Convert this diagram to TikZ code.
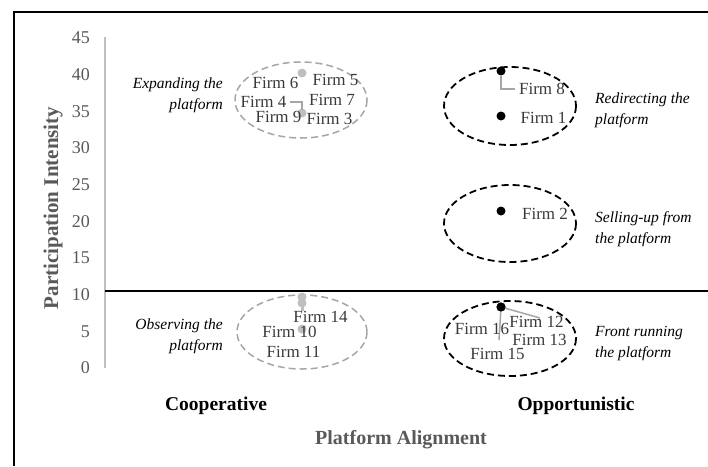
\documentclass[tikz,border=0pt]{standalone}
\usepackage{fontspec}
\setmainfont{Liberation Serif}
\begin{document}
\begin{tikzpicture}[x=1pt,y=-1pt,
  firm/.style={inner sep=0pt,text=firmc,font=\fontsize{17}{17}\selectfont},
  tick/.style={inner sep=0pt,anchor=east,text=tickc,font=\fontsize{18}{18}\selectfont},
  strat/.style={inner sep=0pt,font=\fontsize{15.5}{21}\selectfont\itshape},
  bdot/.style={circle,fill=black,inner sep=0pt,minimum size=9pt},
  gdot/.style={circle,fill=dotg,inner sep=0pt,minimum size=9pt},
  grayell/.style={draw=ellg,line width=1.5pt,dash pattern=on 7pt off 4pt},
  blackell/.style={draw=black,line width=1.8pt,dash pattern=on 7pt off 4pt},
  leader/.style={draw=leadg,line width=1.5pt},
  cat/.style={inner sep=0pt,font=\fontsize{19.5}{20}\selectfont\bfseries},
  axtitle/.style={inner sep=0pt,text=tickc,font=\fontsize{20}{20}\selectfont\bfseries}]
\definecolor{firmc}{HTML}{3A3A3A}
\definecolor{tickc}{HTML}{595959}
\definecolor{dotg}{HTML}{BFBFBF}
\definecolor{ellg}{HTML}{A6A6A6}
\definecolor{leadg}{HTML}{A6A6A6}
\definecolor{axg}{HTML}{BFBFBF}
\useasboundingbox (0,0) rectangle (708,466);
\fill[white] (0,0) rectangle (708,466);
% frame
\draw[line width=2pt] (14,466) -- (14,12) -- (708,12);
% y axis
\coordinate (ytop) at (105,37);
\coordinate (ybot) at (105,368);
\draw[draw=axg,line width=2pt] (ytop) -- (ybot);
\foreach \v in {0,5,...,45} {
  \node[tick] (t\v) at (90,{368-7.333*\v}) {\v};
}
% horizontal divider at 10
\coordinate (hl) at (105,291);
\coordinate (hr) at (708,291);
\draw[line width=2.5pt] (hl) -- (hr);
% ellipses
\draw[grayell] (301,100) ellipse (66 and 38);
\draw[grayell] (302,332) ellipse (65 and 37);
\draw[blackell] (510,106) ellipse (66 and 39);
\draw[blackell] (510,223.5) ellipse (66 and 38.5);
\draw[blackell] (510,338.5) ellipse (66 and 37.5);
% expanding group
\node[gdot] (d40) at (302,73) {};
\node[gdot] (d35) at (302,113) {};
\node[firm] (f6) at (275.5,83) {Firm 6};
\node[firm] (f5) at (335.5,80) {Firm 5};
\node[firm] (f4) at (263.5,102) {Firm 4};
\node[firm] (f7) at (332,100) {Firm 7};
\node[firm] (f9) at (278.5,117) {Firm 9};
\node[firm] (f3) at (329.5,119) {Firm 3};
\draw[leader] ([xshift=3pt]f4.east) -| ([yshift=-2pt]d35.north);
% redirecting group
\node[bdot] (d8) at (501,71) {};
\node[bdot] (d1) at (501,116) {};
\node[firm] (f8) at (542,89) {Firm 8};
\node[firm] (f1) at (543.5,118) {Firm 1};
\draw[leader] (d8.south) |- ([xshift=-4pt]f8.west);
% selling-up group
\node[bdot] (d2) at (501,211) {};
\node[firm] (f2) at (545,214) {Firm 2};
% front running group
\coordinate (e16) at (499,340);
\coordinate (e12) at (540,318);
\node[bdot] (d16) at (501,307) {};
\draw[leader] (d16.center) -- (e16);
\draw[leader] (d16.center) -- (e12);
\node[bdot] at (d16) {};
\node[firm] (f16) at (482,329) {Firm 16};
\node[firm] (f12) at (536.5,322) {Firm 12};
\node[firm] (f13) at (539.5,340) {Firm 13};
\node[firm] (f15) at (497.5,354) {Firm 15};
% observing group
\node[gdot] (d9o) at (302,297) {};
\node[gdot] (d8o) at (302,303) {};
\coordinate (e14) at (302,311);
\draw[draw=dotg,line width=3pt] (d9o) -- (e14);
\node[gdot] (d5o) at (302,329) {};
\node[firm] (f14) at (320.5,317) {Firm 14};
\node[firm] (f10) at (289.5,332) {Firm 10};
\node[firm] (f11) at (293.5,352) {Firm 11};
% strategy labels
\node[strat,align=right,anchor=east] (sexp) at (223,95.5) {Expanding the\\platform};
\node[strat,align=right,anchor=east] (sobs) at (223,336.5) {Observing the\\platform};
\node[strat,align=left,anchor=west] (sred) at (595,110) {Redirecting the\\platform};
\node[strat,align=left,anchor=west] (ssel) at (595,229) {Selling-up from\\the platform};
\node[strat,align=left,anchor=west] (sfro) at (595,343.5) {Front running\\the platform};
% categories and axis titles
\node[cat] (coop) at (216,406) {Cooperative};
\node[cat] (opp) at (576,406) {Opportunistic};
\node[axtitle] (xt) at (401,440) {Platform Alignment};
\node[axtitle,rotate=90,font=\fontsize{21}{21}\selectfont\bfseries] (yt) at (53,208) {Participation Intensity};
\end{tikzpicture}
\end{document}
